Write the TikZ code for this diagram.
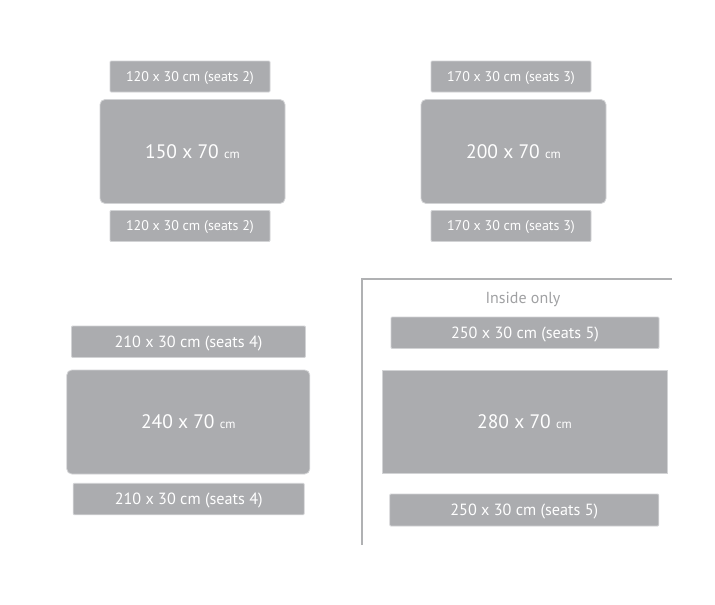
\documentclass[tikz,border=0pt]{standalone}
\usepackage{fontspec}
\setmainfont{PT Sans}
\usepackage{tikz}
\definecolor{tablegray}{RGB}{171,172,175}
\definecolor{edgegray}{RGB}{210,211,213}
\definecolor{linegray}{RGB}{176,177,179}
\definecolor{notegray}{RGB}{160,161,163}

\begin{document}
\begin{tikzpicture}[x=1pt,y=-1pt,
  bench/.style={draw=edgegray,line width=0.8pt,fill=tablegray,rounded corners=1pt,
    text=white,inner sep=0pt,text depth=0pt,font=\fontsize{14}{16}\selectfont},
  longbench/.style={bench,font=\fontsize{16.2}{18}\selectfont},
  tabletop/.style={draw=edgegray,line width=0.8pt,fill=tablegray,rounded corners=5pt,
    text=white,inner sep=0pt,font=\fontsize{19.5}{22}\selectfont}]
\useasboundingbox (0,0) rectangle (715,605);
\newcommand{\unitcm}{ {\fontsize{12.5}{14}\selectfont cm}}
%150 x 70
\node[bench,minimum width=160pt,minimum height=31pt] (benchAtop) at (190,76.5) {120 x 30 cm (seats 2)};
\node[tabletop,minimum width=185pt,minimum height=104pt] (tableA) at (192.5,151.5) {150 x 70\unitcm};
\node[bench,minimum width=160pt,minimum height=31pt] (benchAbot) at (190,226) {120 x 30 cm (seats 2)};
%200 x 70
\node[bench,minimum width=160pt,minimum height=31pt] (benchBtop) at (511,76.5) {170 x 30 cm (seats 3)};
\node[tabletop,minimum width=185pt,minimum height=104pt] (tableB) at (513.5,151.5) {200 x 70\unitcm};
\node[bench,minimum width=160pt,minimum height=31pt] (benchBbot) at (511,226) {170 x 30 cm (seats 3)};
%240 x 70
\node[longbench,minimum width=234pt,minimum height=31.5pt] (benchCtop) at (188.5,341.75) {210 x 30 cm (seats 4)};
\node[tabletop,minimum width=243pt,minimum height=104pt] (tableC) at (188.3,422) {240 x 70\unitcm};
\node[longbench,minimum width=231pt,minimum height=31.5pt] (benchCbot) at (188.7,499) {210 x 30 cm (seats 4)};
%280 x 70, inside only
\draw[linegray,line width=1.2pt] (362,545) -- (362,279) -- (672,279);
\node[text=notegray,font=\fontsize{16}{18}\selectfont] (inside) at (523,299) {Inside only};
\node[longbench,minimum width=268pt,minimum height=31.5pt] (benchDtop) at (525,332.75) {250 x 30 cm (seats 5)};
\node[tabletop,rounded corners=0pt,minimum width=285pt,minimum height=103pt] (tableD) at (524.5,421.5) {280 x 70\unitcm};
\node[longbench,minimum width=269pt,minimum height=32pt] (benchDbot) at (524.3,510) {250 x 30 cm (seats 5)};
\end{tikzpicture}
\end{document}
